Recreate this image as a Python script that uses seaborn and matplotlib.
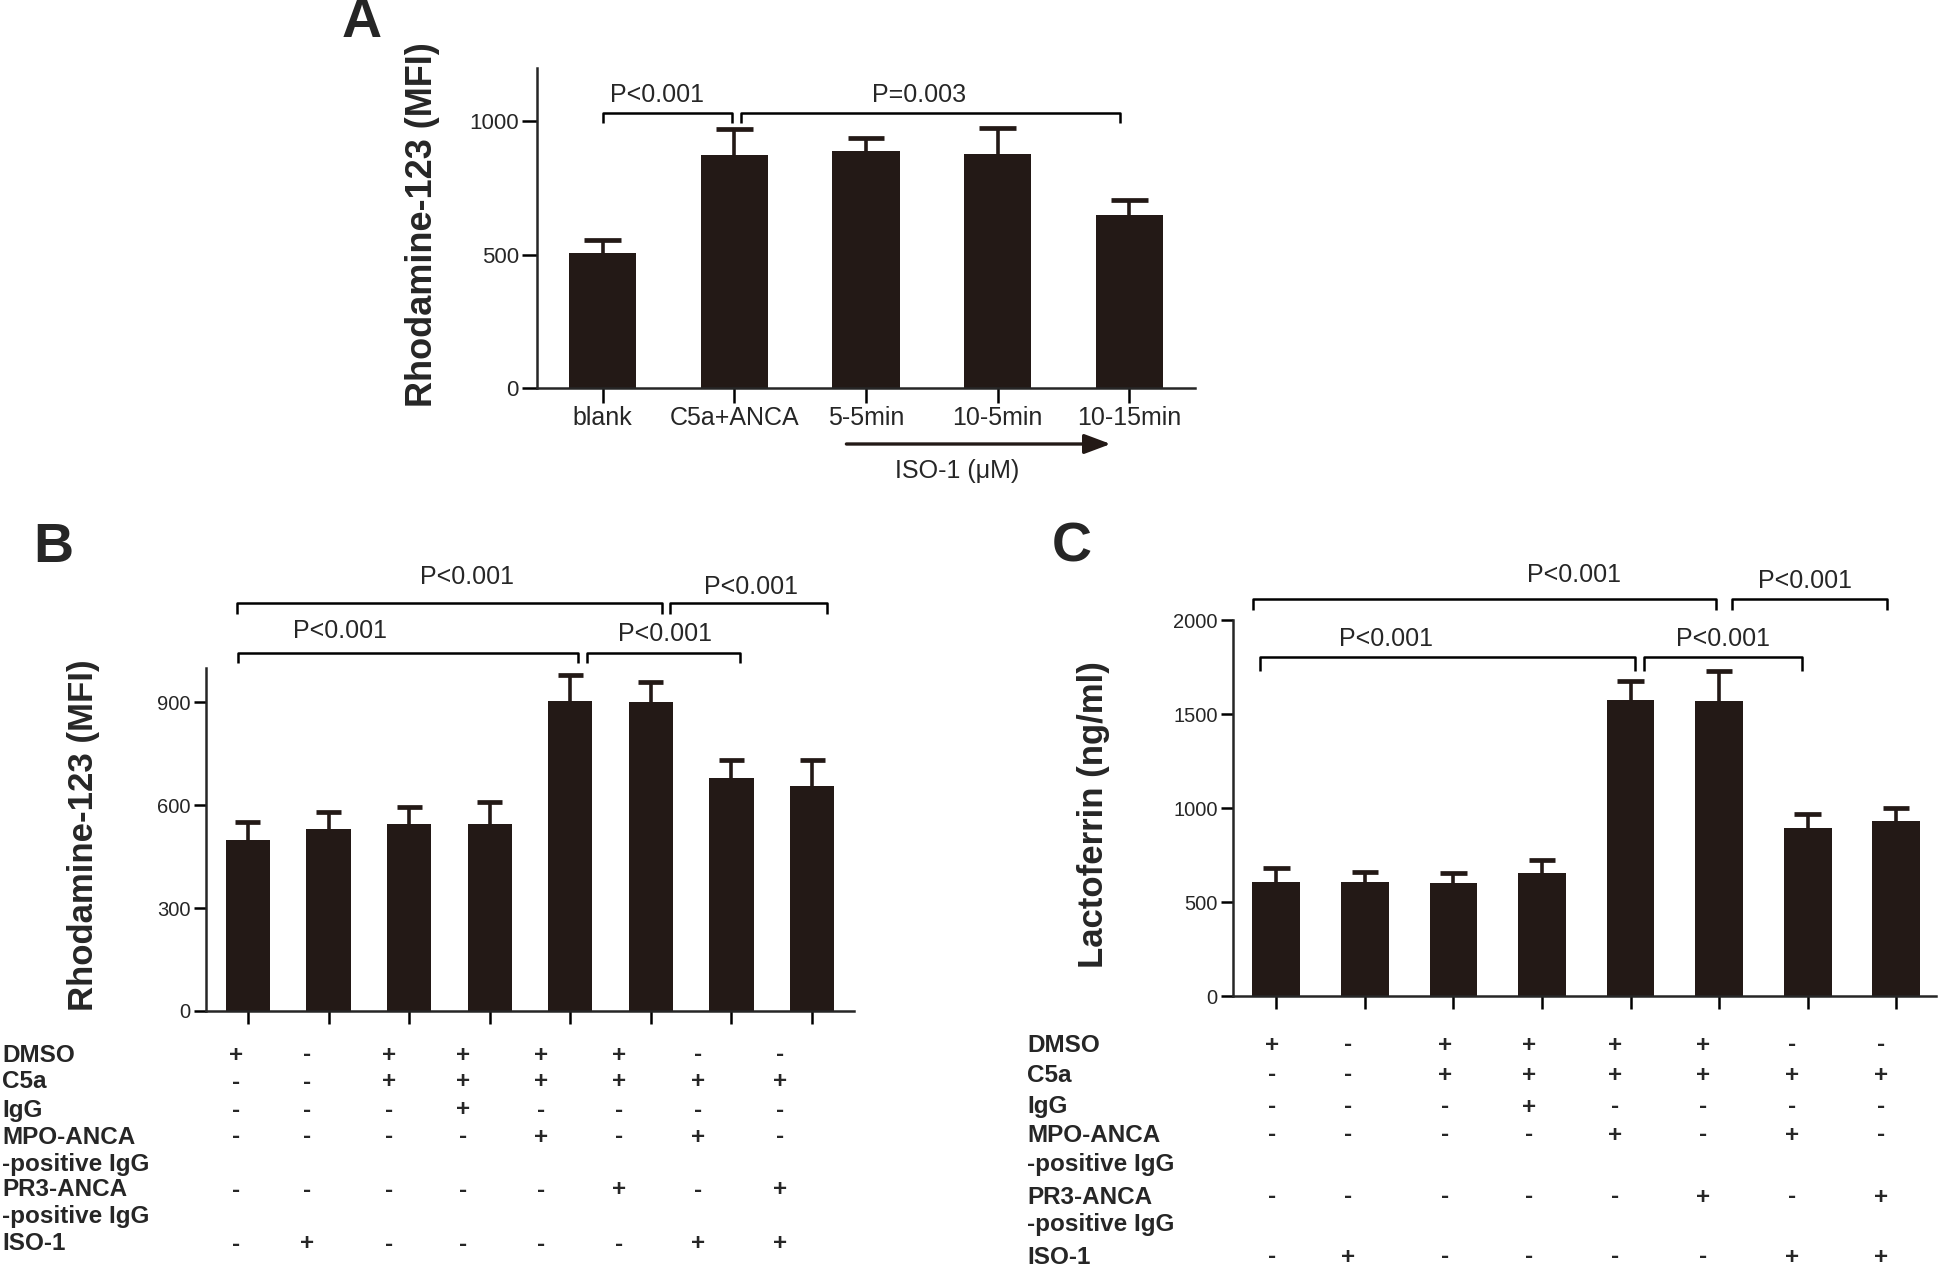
import numpy as np
import pandas as pd
import matplotlib
matplotlib.use("Agg")
import matplotlib.pyplot as plt
import seaborn as sns

# --- data ---
a_groups = ["blank", "C5a+ANCA", "5-5min", "10-5min", "10-15min"]
a_mean = [508, 872, 888, 879, 650]
a_sem = [47, 101, 51, 96, 54]

b_mean = [500, 532, 545, 545, 904, 901, 680, 657]
b_sem = [52, 49, 51, 63, 75, 57, 53, 76]

c_mean = [609, 609, 603, 653, 1574, 1567, 891, 932]
c_sem = [74, 53, 52, 71, 101, 160, 76, 67]

row_labels = ["DMSO", "C5a", "IgG", "MPO-ANCA", "-positive IgG",
              "PR3-ANCA", "-positive IgG", "ISO-1"]
row_signs = ["+-++++--", "--++++++", "---+----", "----+-+-", None,
             "-----+-+", None, "-+----++"]

W, H = 1946, 1269
bar_color = "#231916"

sns.set_style("ticks")
plt.rcParams["font.family"] = ["Liberation Sans", "DejaVu Sans"]
plt.rcParams["axes.linewidth"] = 1.8

fig = plt.figure(figsize=(W / 100, H / 100), dpi=100)


def fx(px):
    return px / W


def fy(py):
    return 1 - py / H


def bars(ax, labels, mean, sem, width, cap, ylim, yticks):
    df = pd.DataFrame({"group": labels, "value": mean})
    sns.barplot(data=df, x="group", y="value", color=bar_color, saturation=1,
                errorbar=None, width=width, linewidth=0, ax=ax)
    # one-sided (upper) SEM bars
    x = np.arange(len(mean))
    top = np.array(mean) + np.array(sem)
    ax.vlines(x, mean, top, color=bar_color, lw=2.6)
    ax.hlines(top, x - cap, x + cap, color=bar_color, lw=3.4)
    sns.despine(ax=ax)
    ax.set_ylim(*ylim)
    ax.set_yticks(yticks)
    ax.set_xlabel("")
    ax.set_ylabel("")
    ax.tick_params(axis="both", width=1.8, color="black")


def bracket(ax, x0, x1, ytop, ybot):
    ax.plot([x0, x0, x1, x1], [ybot, ytop, ytop, ybot], color="black",
            lw=1.8, clip_on=False, solid_capstyle="butt")


def ptext(ax, x, y, s):
    ax.text(x, y, s, ha="center", va="center", fontsize=18, clip_on=False)


# ---------------- A ----------------
axA = fig.add_axes([fx(537), fy(388), fx(1195 - 537), (388 - 68) / H])
bars(axA, a_groups, a_mean, a_sem, 0.51, 0.14, (0, 1200), [0, 500, 1000])
axA.set_xlim(-0.5, 4.5)
axA.tick_params(axis="x", length=11, labelsize=18, pad=2)
axA.tick_params(axis="y", length=11, labelsize=16, pad=2)
axA.set_ylabel("Rhodamine-123 (MFI)", fontsize=26, fontweight="bold")
axA.yaxis.set_label_coords(fx(440), fy(225), transform=fig.transFigure)
bracket(axA, 0, 0.98, 1030, 993)
bracket(axA, 1.05, 3.93, 1030, 993)
ptext(axA, 0.41, 1100, "P<0.001")
ptext(axA, 2.40, 1100, "P=0.003")
axA.annotate("", xy=(3.88, -210), xytext=(1.83, -210),
             arrowprops=dict(arrowstyle="-|>,head_length=0.8,head_width=0.3",
                             mutation_scale=20, lw=2.4, color=bar_color),
             annotation_clip=False)
axA.text(2.69, -313, "ISO-1 (\u03bcM)", ha="center", va="center", fontsize=18)

# ---------------- B ----------------
axB = fig.add_axes([fx(206), fy(1011), fx(854 - 206), (1011 - 668) / H])
bars(axB, [str(i) for i in range(8)], b_mean, b_sem, 0.55, 0.155, (0, 1000),
     [0, 300, 600, 900])
axB.set_xlim(-0.52, 7.52)
axB.set_xticklabels([])
axB.tick_params(axis="x", length=9)
axB.tick_params(axis="y", length=9, labelsize=14.5, pad=2)
axB.set_ylabel("Rhodamine-123 (MFI)", fontsize=25, fontweight="bold")
axB.yaxis.set_label_coords(fx(100), fy(835), transform=fig.transFigure)
bracket(axB, -0.14, 5.14, 1189, 1158)
bracket(axB, 5.24, 7.19, 1189, 1158)
bracket(axB, -0.12, 4.09, 1044, 1016)
bracket(axB, 4.21, 6.10, 1044, 1016)
ptext(axB, 2.72, 1265, "P<0.001")
ptext(axB, 6.24, 1236, "P<0.001")
ptext(axB, 1.14, 1109, "P<0.001")
ptext(axB, 5.17, 1099, "P<0.001")

# ---------------- C ----------------
axC = fig.add_axes([fx(1233), fy(996), fx(1936 - 1233), (996 - 620) / H])
bars(axC, [str(i) for i in range(8)], c_mean, c_sem, 0.54, 0.15, (0, 2000),
     [0, 500, 1000, 1500, 2000])
axC.set_xlim(-0.49, 7.45)
axC.set_xticklabels([])
axC.tick_params(axis="x", length=9)
axC.tick_params(axis="y", length=9, labelsize=14.5, pad=2)
axC.set_ylabel("Lactoferrin (ng/ml)", fontsize=25, fontweight="bold")
axC.yaxis.set_label_coords(fx(1110), fy(815), transform=fig.transFigure)
bracket(axC, -0.26, 4.96, 2112, 2055)
bracket(axC, 5.15, 6.90, 2112, 2055)
bracket(axC, -0.19, 4.05, 1801, 1730)
bracket(axC, 4.15, 5.94, 1801, 1730)
ptext(axC, 3.36, 2241, "P<0.001")
ptext(axC, 5.97, 2206, "P<0.001")
ptext(axC, 1.24, 1899, "P<0.001")
ptext(axC, 5.04, 1899, "P<0.001")

# ---------------- treatment tables ----------------
cols_b = [236, 307, 389, 463, 541, 619, 698, 780]
rows_b = [1053, 1080, 1108, 1135, 1162, 1188, 1215, 1242]
cols_c = [1272, 1348, 1445, 1529, 1615, 1703, 1792, 1881]
rows_c = [1043, 1073, 1105, 1133, 1163, 1195, 1223, 1255]


def table(x_label, cols, rows):
    for lab, signs, y in zip(row_labels, row_signs, rows):
        fig.text(fx(x_label), fy(y + 8.5), lab, ha="left", va="baseline",
                 fontsize=17.5, fontweight="bold")
        if signs is None:
            continue
        for s, x in zip(signs, cols):
            fig.text(fx(x), fy(y + 8.5), s, ha="center", va="baseline",
                     fontsize=17.5, fontweight="bold")


table(2, cols_b, rows_b)
table(1027, cols_c, rows_c)

# panel letters
for letter, x, y in [("A", 362, 23), ("B", 53, 548), ("C", 1072, 548)]:
    fig.text(fx(x), fy(y), letter, ha="center", va="center", fontsize=40,
             fontweight="bold")

fig.savefig("out.png", dpi=100)
